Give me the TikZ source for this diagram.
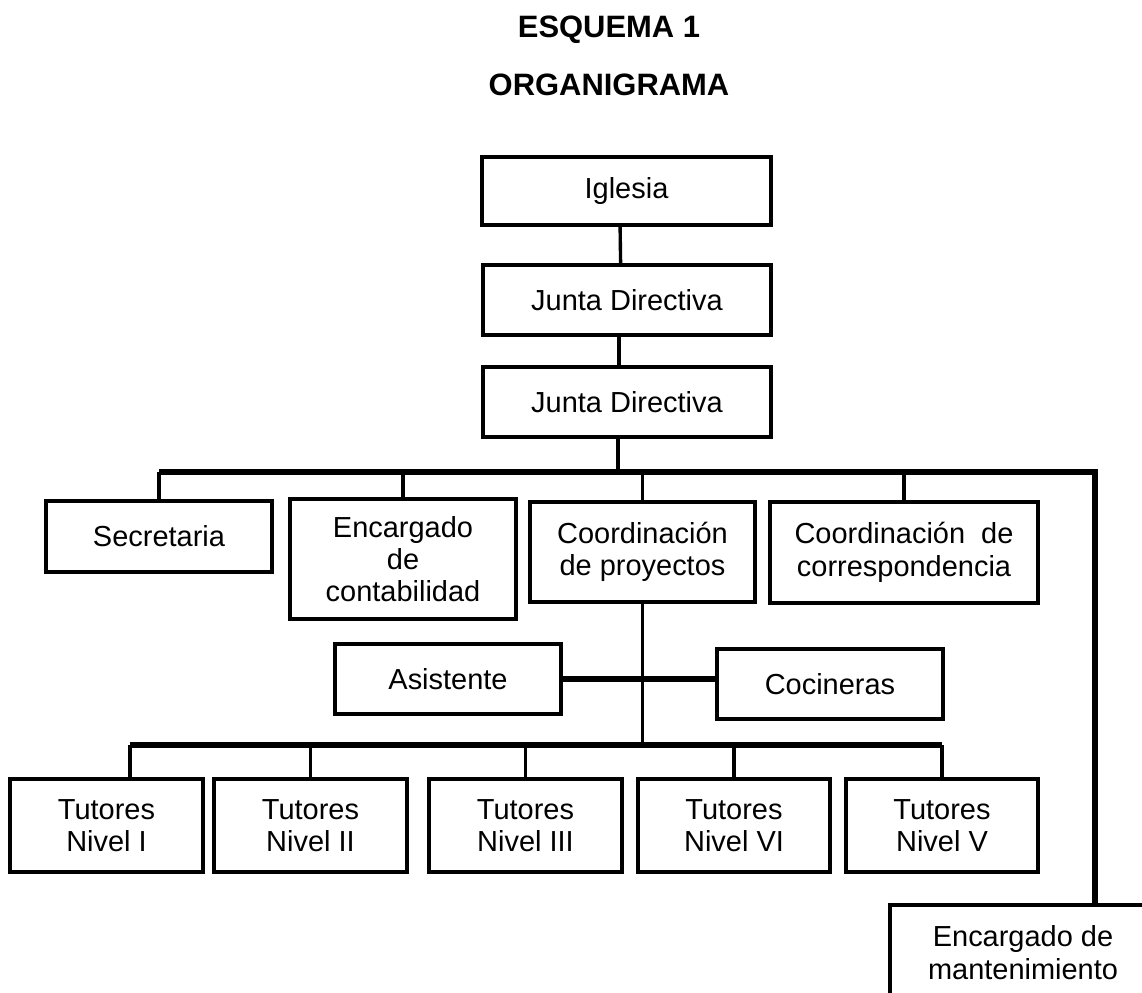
\documentclass[tikz,border=0pt]{standalone}
\usepackage{fontspec}
\setmainfont{Liberation Sans}
\usetikzlibrary{positioning}

\begin{document}
\begin{tikzpicture}[x=0.025cm, y=-0.025cm]
        \tikzstyle{block} = [rectangle, draw, line width=2.85pt, align=center, inner sep=0pt, font=\fontsize{20.6}{23}\selectfont]
        \tikzstyle{topblock} = [block, minimum width=7.2cm, minimum height=1.75cm]
        \tikzstyle{unit} = [block, minimum width=5.65cm, minimum height=1.75cm]
        \tikzstyle{tutor} = [block, minimum width=4.8cm, minimum height=2.325cm]
        \tikzstyle{line} = [draw, line width=2.4pt]
        \tikzstyle{bus} = [draw, line width=3.6pt]
        \tikzstyle{title} = [font=\bfseries\fontsize{22}{26}\selectfont]

    \useasboundingbox (0,0) rectangle (1142,992);
    \clip (0,0) rectangle (1142,992);

    \node [title] (esquema) at (609,30) {ESQUEMA 1};
    \node [title] (organigrama) at (609,85) {ORGANIGRAMA};

    \node [topblock, minimum height=1.7cm] (iglesia) at (626.5,191) {Iglesia};
    \node [topblock] (junta1) at (627,300) {Junta Directiva};
    \node [topblock] (junta2) at (627,402) {Junta Directiva};

    \node [unit, minimum height=1.775cm] (secretaria) at (159,536.5) {Secretaria};
    \node [unit, minimum height=3cm] (contabilidad) at (403,559) {Encargado\\de\\contabilidad};
    \node [unit, minimum width=5.625cm, minimum height=2.5cm] (proyectos) at (642.5,552) {Coordinación\\de proyectos};
    \node [unit, minimum width=6.7cm, minimum height=2.525cm] (correspondencia) at (904,552.5) {Coordinación~~de\\correspondencia};

    \node [unit] (asistente) at (448,679) {Asistente};
    \node [unit] (cocineras) at (830,684) {Cocineras};

    \node [tutor] (tutor1) at (106.5,825.5) {Tutores\\Nivel I};
    \node [tutor] (tutor2) at (310.5,825.5) {Tutores\\Nivel II};
    \node [tutor] (tutor3) at (525.5,825.5) {Tutores\\Nivel III};
    \node [tutor] (tutor4) at (734,825.5) {Tutores\\Nivel VI};
    \node [tutor] (tutor5) at (942,825.5) {Tutores\\Nivel V};

    \node [unit, minimum width=6.65cm, minimum height=2.375cm] (mantenimiento) at (1023,952.5) {Encargado de\\mantenimiento};

    \coordinate (drop) at (618,472);
    \coordinate (topbus) at (1095,472);
    \coordinate (lowbus) at (130,745);

    \path [line] ([xshift=-0.16cm]iglesia.south) -- ([xshift=-0.16cm]junta1.north);
    \path [line] ([xshift=-0.2cm]junta1.south) -- ([xshift=-0.2cm]junta2.north);
    \path [line] (junta2.south -| drop) -- (drop);
    \path [bus] (secretaria.north |- topbus) -- (topbus) -- (mantenimiento.north -| topbus);
    \foreach \n in {secretaria, contabilidad, proyectos, correspondencia}
        \path [line] (topbus -| \n.north) -- (\n.north);

    \path [line, line width=1.9pt] (proyectos.south) -- (proyectos.south |- lowbus);
    \path [bus] (asistente.east) -- (asistente.east -| cocineras.west);

    \path [bus] (lowbus) -- (lowbus -| tutor5.north);
    \path [line] (lowbus) -- (lowbus |- tutor1.north);
    \foreach \n in {tutor2, tutor3, tutor4, tutor5}
        \path [line] (lowbus -| \n.north) -- (\n.north);
\end{tikzpicture}
\end{document}
